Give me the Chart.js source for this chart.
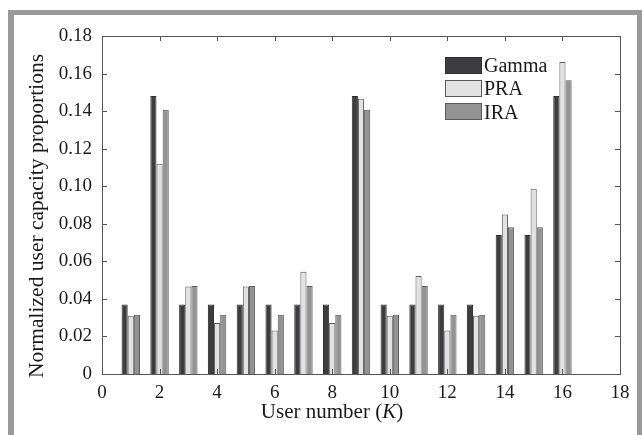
<!DOCTYPE html>
<html>
<head>
<meta charset="utf-8">
<script src="https://cdn.jsdelivr.net/npm/chart.js@4/dist/chart.umd.min.js"></script>
<style>
  html, body { margin: 0; padding: 0; background: #fff; }
  #wrap { width: 642px; height: 435px; }
</style>
</head>
<body>
<div id="wrap"><canvas id="barChart" width="642" height="435"></canvas></div>
<script>
// user numbers K = 1..16
const users = [1, 2, 3, 4, 5, 6, 7, 8, 9, 10, 11, 12, 13, 14, 15, 16];
const gamma = [0.037, 0.148, 0.037, 0.037, 0.037, 0.037, 0.037, 0.037, 0.148, 0.037, 0.037, 0.037, 0.037, 0.074, 0.074, 0.148];
const pra   = [0.031, 0.112, 0.0466, 0.0272, 0.0466, 0.0231, 0.0544, 0.0272, 0.1466, 0.031, 0.0522, 0.0231, 0.031, 0.0849, 0.0986, 0.1661];
const ira   = [0.0315, 0.1407, 0.0469, 0.0315, 0.0469, 0.0315, 0.0469, 0.0315, 0.1407, 0.0315, 0.0469, 0.0315, 0.0315, 0.0782, 0.0782, 0.1564];
const seriesNames = ['Gamma', 'PRA', 'IRA'];
const xTicks = [0, 2, 4, 6, 8, 10, 12, 14, 16, 18];
const yTicks = [0, 0.02, 0.04, 0.06, 0.08, 0.10, 0.12, 0.14, 0.16, 0.18];

const FONT = 'Liberation Serif';
const INK = '#1a1a1a';

function toPoints(values) {
    return users.map((u, i) => ({ x: u, y: values[i] }));
}

// frame, axes box, inward ticks, titles and legend
const decorations = {
    id: 'decorations',
    beforeDraw(chart) {
        const ctx = chart.ctx;
        ctx.save();
        ctx.fillStyle = '#9a9a9a';
        ctx.fillRect(8, 10, 6, 425);
        ctx.fillRect(8, 10, 634, 5);
        ctx.fillRect(637, 10, 5, 425);
        ctx.restore();
    },
    afterDraw(chart) {
        const ctx = chart.ctx;
        const a = chart.chartArea;
        const xs = chart.scales.x;
        const ys = chart.scales.y;
        ctx.save();
        ctx.strokeStyle = '#555';
        ctx.lineWidth = 1;
        ctx.strokeRect(Math.round(a.left) + 0.5, Math.round(a.top) + 0.5,
            Math.round(a.right - a.left), Math.round(a.bottom - a.top));

        ctx.beginPath();
        xTicks.slice(1, -1).forEach(v => {
            const px = Math.round(xs.getPixelForValue(v)) + 0.5;
            ctx.moveTo(px, a.bottom); ctx.lineTo(px, a.bottom - 5);
            ctx.moveTo(px, a.top); ctx.lineTo(px, a.top + 5);
        });
        yTicks.slice(1, -1).forEach(v => {
            const py = Math.round(ys.getPixelForValue(v)) + 0.5;
            ctx.moveTo(a.left, py); ctx.lineTo(a.left + 5, py);
            ctx.moveTo(a.right, py); ctx.lineTo(a.right - 5, py);
        });
        ctx.stroke();

        // x title with italic K
        ctx.fillStyle = INK;
        ctx.textBaseline = 'alphabetic';
        ctx.textAlign = 'left';
        const p1 = 'User number (', p2 = 'K', p3 = ')';
        const normal = '21px "' + FONT + '"';
        const italic = 'italic 21px "' + FONT + '"';
        ctx.font = normal;
        const w1 = ctx.measureText(p1).width, w3 = ctx.measureText(p3).width;
        ctx.font = italic;
        const w2 = ctx.measureText(p2).width;
        let tx = 332 - (w1 + w2 + w3) / 2;
        const ty = 418;
        ctx.font = normal; ctx.fillText(p1, tx, ty); tx += w1;
        ctx.font = italic; ctx.fillText(p2, tx, ty); tx += w2;
        ctx.font = normal; ctx.fillText(p3, tx, ty);

        // y title
        ctx.save();
        ctx.translate(42.5, 216);
        ctx.rotate(-Math.PI / 2);
        ctx.textAlign = 'center';
        ctx.font = '21.5px "' + FONT + '"';
        ctx.fillText('Normalized user capacity proportions', 0, 0);
        ctx.restore();

        // legend
        ctx.font = '20px "' + FONT + '"';
        ctx.textAlign = 'left';
        chart.data.datasets.forEach((ds, i) => {
            const top = 57 + i * 23;
            ctx.fillStyle = ds.backgroundColor;
            ctx.fillRect(445, top, 37, 17);
            ctx.strokeStyle = ds.borderColor;
            ctx.strokeRect(445.5, top + 0.5, 36, 16);
            ctx.fillStyle = INK;
            ctx.fillText(ds.label, 484, top + 14.5 + i * 0.8);
        });
        ctx.restore();
    }
};

const ctx = document.getElementById('barChart').getContext('2d');
new Chart(ctx, {
    type: 'bar',
    data: {
        datasets: [
            { label: seriesNames[0], data: toPoints(gamma), backgroundColor: '#3d3d3f', borderColor: '#2e2e2e' },
            { label: seriesNames[1], data: toPoints(pra), backgroundColor: '#e2e2e2', borderColor: '#5a5a5a' },
            { label: seriesNames[2], data: toPoints(ira), backgroundColor: '#939393', borderColor: '#5a5a5a' }
        ]
    },
    options: {
        responsive: false,
        animation: false,
        devicePixelRatio: 1,
        categoryPercentage: 0.64,
        barPercentage: 1.0,
        datasets: { bar: { borderWidth: 1 } },
        layout: { padding: { left: 0, top: 36, right: 22, bottom: 0 } },
        plugins: { legend: { display: false }, tooltip: { enabled: false } },
        scales: {
            x: {
                type: 'linear',
                min: 0,
                max: 18,
                offset: false,
                afterBuildTicks: scale => { scale.ticks = xTicks.map(v => ({ value: v })); },
                afterFit: scale => { scale.height = 61; },
                grid: { display: false, drawTicks: false, tickLength: 0 },
                border: { display: false },
                ticks: {
                    color: INK,
                    padding: 8,
                    maxRotation: 0,
                    autoSkip: false,
                    font: { family: FONT, size: 19 }
                }
            },
            y: {
                min: 0,
                max: 0.18,
                afterBuildTicks: scale => { scale.ticks = yTicks.map(v => ({ value: v })); },
                afterFit: scale => { scale.width = 102; },
                grid: { display: false, drawTicks: false, tickLength: 0 },
                border: { display: false },
                ticks: {
                    color: INK,
                    padding: 10,
                    autoSkip: false,
                    font: { family: FONT, size: 19 },
                    callback: v => v === 0 ? '0' : v.toFixed(2)
                }
            }
        }
    },
    plugins: [decorations]
});
</script>
</body>
</html>
